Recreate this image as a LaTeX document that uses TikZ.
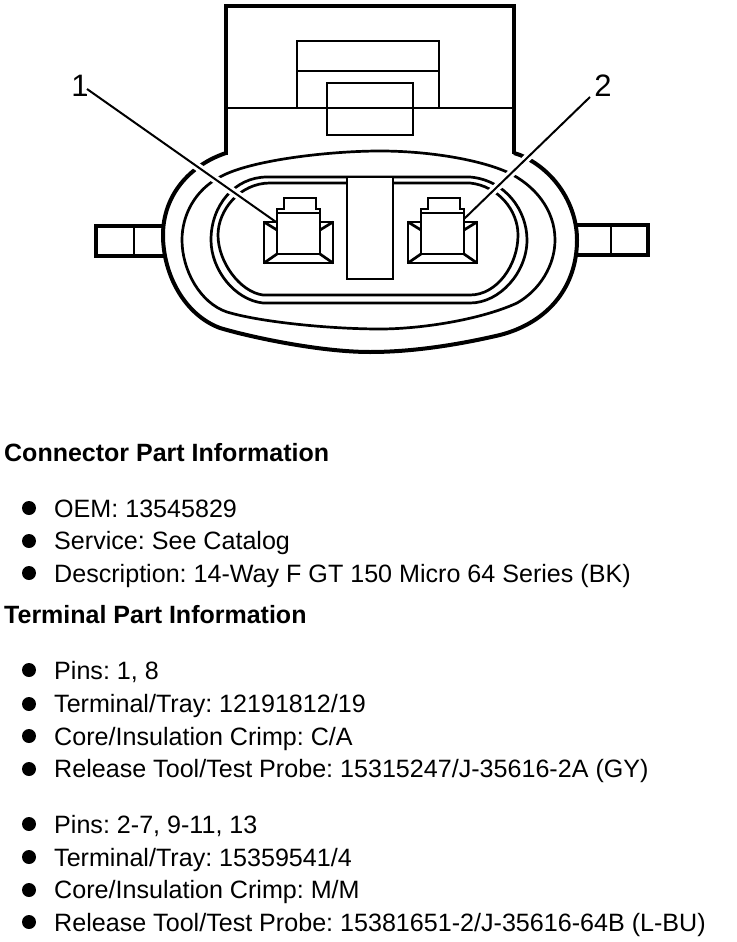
\documentclass[tikz,border=0pt]{standalone}
\usepackage{fontspec}
\setmainfont{Liberation Sans}
\frenchspacing
\tikzset{
  heavy/.style={line width=4pt,line join=miter},
  medium/.style={line width=2.7pt},
  leader/.style={line width=2pt,preaction={draw=white,line width=8pt}},
  callout/.style={font=\fontsize{31}{31}\selectfont,inner sep=0pt},
  dot/.style={circle,fill=black,inner sep=0pt,minimum size=14pt},
  item/.style={anchor=base west,inner sep=0pt,font=\fontsize{25.1}{25}\selectfont},
  title/.style={anchor=base west,inner sep=0pt,font=\fontsize{25}{25}\selectfont\bfseries},
  terminal/.pic={
    \draw[medium] (264,222) rectangle (333,263);
    \draw[medium,fill=white] (277,254) -- (277,209) -- (284,209) -- (284,198) -- (316,198) -- (316,209) -- (320,209) -- (320,254) -- cycle;
    \draw[medium] (277,213) -- (320,213);
    \draw[medium] (264,263) -- (277,254);
    \draw[medium] (333,263) -- (320,254);
    \draw[medium] (264,222) -- (277,230);
    \draw[medium] (333,222) -- (320,230);
  }
}
\begin{document}
\begin{tikzpicture}[x=1pt,y=-1pt]
\useasboundingbox (0,0) rectangle (736,942);

% side tabs
\draw[heavy] (163,226) -- (96,226) -- (96,256) -- (165,256);
\draw[medium] (134,226) -- (134,256);
\draw[heavy] (577,225) -- (648,225) -- (648,255) -- (577,255);
\draw[medium] (611,225) -- (611,255);

% housing
\draw[heavy] (226,155) -- (226,6) -- (514,6) -- (514,154);
\draw[medium] (226,108) -- (514,108);
\draw[medium] (297,108) -- (297,41) -- (439,41) -- (439,108);
\draw[medium] (297,71) -- (439,71);
\draw[medium] (327,83) rectangle (413,135);

% outer body
\draw[heavy] (226,153) .. controls (190,165) and (163,195) .. (163,235) .. controls (163,275) and (185,315) .. (220,328) .. controls (250,337) and (320,352) .. (370,352) .. controls (420,352) and (470,342) .. (500,335) .. controls (550,322) and (577,285) .. (577,240) .. controls (577,205) and (555,170) .. (520,155) -- (514,153);
\draw[medium] (380,151) .. controls (330,151) and (250,160) .. (220,177) .. controls (195,190) and (182,215) .. (182,240) .. controls (182,270) and (200,303) .. (227,312) .. controls (260,322) and (330,329) .. (380,329) .. controls (420,329) and (480,320) .. (517,303) .. controls (540,290) and (555,265) .. (555,240) .. controls (555,210) and (535,185) .. (507,172) .. controls (480,160) and (430,151) .. (380,151) -- cycle;

% inner walls
\draw[medium] (267,177) -- (470,177) .. controls (505,180) and (527,210) .. (527,240) .. controls (527,272) and (500,303) .. (470,303) -- (263,303) .. controls (235,300) and (211,270) .. (211,240) .. controls (211,205) and (235,177) .. (267,177) -- cycle;
\draw[medium] (270,183) -- (470,183) .. controls (498,186) and (518,210) .. (518,235) .. controls (518,265) and (497,295) .. (470,295) -- (263,295) .. controls (240,292) and (218,262) .. (218,235) .. controls (218,210) and (240,183) .. (270,183) -- cycle;
\draw[medium,fill=white] (347,177) rectangle (393,279);

% callouts
\node[callout] (label1) at (80,86) {1};
\node[callout] (label2) at (603,86) {2};
\coordinate (tip1) at (276,222);
\coordinate (tip2) at (464,219);
\coordinate (start1) at (87,89);
\coordinate (start2) at (590,97);
\draw[leader] (start1) -- (tip1);
\draw[leader] (start2) -- (tip2);

% terminals
\pic at (0,0) {terminal};
\pic at (144,0) {terminal};

% text
\node[title] (conn) at (4,461) {Connector Part Information};
\node[dot] (d1) at (29,508) {};
\node[item] (t1) at (54,517) {OEM: 13545829};
\node[dot] (d2) at (29,541) {};
\node[item] (t2) at (54,549) {Service: See Catalog};
\node[dot] (d3) at (29,573) {};
\node[item] (t3) at (54,582) {Description: 14-Way F GT 150 Micro 64 Series (BK)};
\node[title] (term) at (4,623) {Terminal Part Information};
\node[dot] (d4) at (29,670) {};
\node[item] (t4) at (54,679) {Pins: 1, 8};
\node[dot] (d5) at (29,704) {};
\node[item] (t5) at (54,712) {Terminal/Tray: 12191812/19};
\node[dot] (d6) at (29,736) {};
\node[item] (t6) at (54,745) {Core/Insulation Crimp: C/A};
\node[dot] (d7) at (29,769) {};
\node[item] (t7) at (54,777) {Release Tool/Test Probe: 15315247/J-35616-2A (GY)};
\node[dot] (d8) at (29,824) {};
\node[item] (t8) at (54,833) {Pins: 2-7, 9-11, 13};
\node[dot] (d9) at (29,857) {};
\node[item] (t9) at (54,866) {Terminal/Tray: 15359541/4};
\node[dot] (d10) at (29,890) {};
\node[item] (t10) at (54,898) {Core/Insulation Crimp: M/M};
\node[dot] (d11) at (29,922) {};
\node[item] (t11) at (54,931) {Release Tool/Test Probe: 15381651-2/J-35616-64B (L-BU)};
\end{tikzpicture}
\end{document}
